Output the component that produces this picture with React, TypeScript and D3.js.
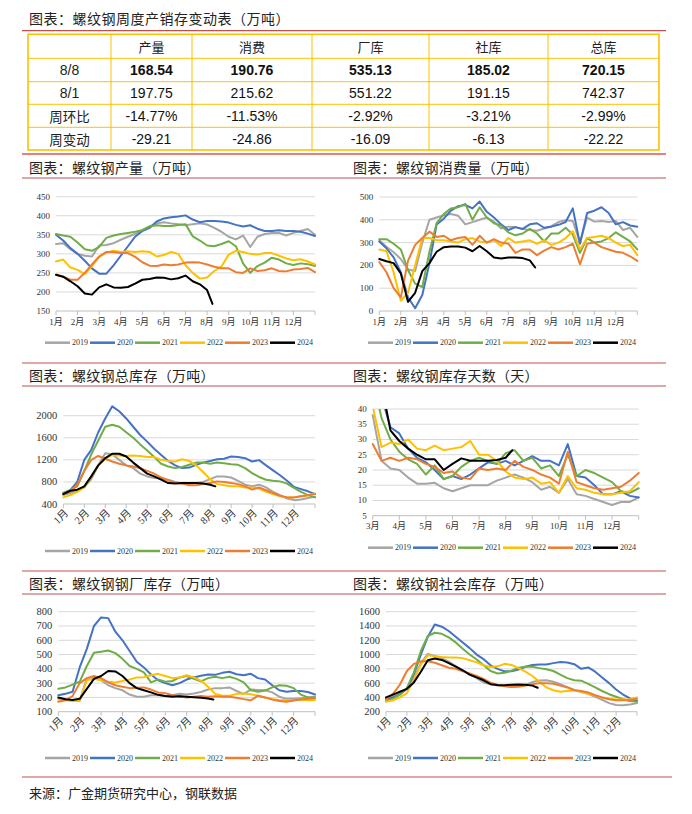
import React from 'react';
import * as d3 from 'd3';

// ---------------- shared ----------------
const YEARS = ['2019', '2020', '2021', '2022', '2023', '2024'];
const COLORS = ['#A5A5A5', '#4472C4', '#70AD47', '#FFC000', '#ED7D31', '#000000'];
const MONTHS = ['1月', '2月', '3月', '4月', '5月', '6月', '7月', '8月', '9月', '10月', '11月', '12月'];
const STEP = 1 / 3; // sample spacing in months
const LAST_2024 = 7.25; // month position of the 8/8 week

// ---------------- table ----------------
const TABLE_TITLE = '图表：螺纹钢周度产销存变动表（万吨）';
const TABLE_HEAD = ['产量', '消费', '厂库', '社库', '总库'];
const TABLE_ROWS = ['8/8', '8/1', '周环比', '周变动'];
const ROW_CUR = ['168.54', '190.76', '535.13', '185.02', '720.15'];
const ROW_PREV = ['197.75', '215.62', '551.22', '191.15', '742.37'];
const ROW_PCT = ['-14.77%', '-11.53%', '-2.92%', '-3.21%', '-2.99%'];
const ROW_CHG = ['-29.21', '-24.86', '-16.09', '-6.13', '-22.22'];

// ---------------- 产量 ----------------
const out2019 = [326,328,312,300,295,293,322,323,328,337,345,352,362,372,380,383,380,378,375,378,380,377,368,358,345,338,348,318,345,352,355,355,348,355,360,365,350];
const out2020 = [350,335,315,300,282,262,248,248,270,295,320,345,360,368,385,393,396,398,401,390,383,386,386,385,382,376,372,375,366,360,360,362,360,360,358,353,347];
const out2021 = [352,348,345,330,312,308,318,342,348,352,355,358,362,372,375,373,373,376,378,346,335,322,320,326,333,320,275,250,268,277,290,285,275,271,275,273,268];
const out2022 = [280,285,264,258,247,268,292,303,308,305,307,305,307,305,293,297,305,300,270,250,235,238,255,267,298,308,305,300,298,302,302,295,288,283,286,280,272];
const out2023 = [245,240,232,232,250,272,293,305,305,302,302,292,278,269,268,272,270,272,277,278,277,272,266,262,262,252,250,262,255,257,262,255,254,259,260,263,252];
const out2024 = [245,240,228,215,196,193,212,220,212,211,213,222,232,234,238,237,233,236,243,228,220,205,168.54];

// ---------------- 消费量 ----------------
const con2019 = [310,282,258,228,182,175,300,400,410,420,425,418,380,390,400,410,392,362,370,368,360,355,352,362,372,390,398,395,300,410,392,395,390,395,355,365,325];
const con2020 = [305,275,235,170,60,12,70,210,380,405,440,460,465,450,480,435,410,380,355,368,360,380,385,365,370,378,390,450,295,430,440,455,430,380,390,375,370];
const con2021 = [315,315,295,270,180,120,105,260,385,425,450,455,470,400,455,410,385,375,345,332,340,360,340,305,340,340,365,335,255,320,300,305,320,345,325,305,270];
const con2022 = [270,262,170,45,80,200,320,320,310,310,305,300,315,320,305,300,310,285,320,300,305,310,295,310,290,300,320,350,270,320,325,330,320,300,285,290,245];
const con2023 = [215,170,100,60,220,290,320,348,325,330,310,320,325,290,330,300,315,300,295,255,270,270,245,265,280,270,280,295,205,295,300,280,270,260,255,240,220];
const con2024 = [228,218,210,165,40,80,175,210,260,280,283,283,278,262,285,262,235,230,235,235,232,222,190.76];

// ---------------- 总库存 ----------------
const tot2019 = [560,600,650,700,850,1100,1320,1300,1200,1100,1050,950,900,870,860,840,800,770,760,780,800,850,900,900,880,820,750,720,750,700,620,560,500,470,480,510,530];
const tot2020 = [600,650,800,1200,1380,1700,1950,2170,2080,1950,1800,1650,1530,1400,1290,1180,1100,1050,1060,1110,1150,1180,1210,1220,1260,1250,1230,1170,1195,1100,1010,920,820,710,670,630,580];
const tot2021 = [600,650,720,1000,1300,1550,1800,1835,1800,1700,1600,1480,1370,1250,1130,1080,1050,1070,1110,1150,1150,1130,1150,1140,1120,1110,1050,960,890,840,820,810,770,690,620,560,520];
const tot2022 = [520,560,620,700,900,1100,1220,1290,1280,1270,1280,1270,1250,1250,1200,1180,1170,1210,1180,1100,980,850,760,740,720,720,700,700,680,620,580,540,520,520,540,560,590];
const tot2023 = [580,630,750,1000,1200,1270,1220,1170,1130,1100,1080,1050,1000,950,880,830,780,770,740,740,760,780,810,800,780,760,720,660,700,650,600,550,520,520,540,560,580];
const tot2024 = [580,640,660,720,900,1100,1230,1310,1310,1260,1150,1050,950,900,840,780,770,780,780,780,770,750,720.15];

// ---------------- 库存天数 (from March) ----------------
const day2019 = [38,23,20.5,20,17.5,15.5,15.5,15.8,14,13,14,15,15,15,16.5,17.5,18.5,17.5,16,13.5,14.5,12.5,17,12,11.5,10.5,9.5,8.5,9.5,9.5,11];
const day2020 = [60,44,34,32,27,24,22.5,20,17,18,17,18.5,20.5,22.5,22,23,21.5,23,24.5,23,23,21.5,28.5,18,17.5,15,12,12,13,11.5,11];
const day2021 = [50,37,30,26,23.5,22,18.5,21.5,17,18,21,23,24,23,22,25.5,26.5,23,24,20.5,21.5,18,25,18,20,19,17.5,16,13,12.5,14];
const day2022 = [41,27.5,29,28.5,30,27,26.5,28,26.5,27,27.5,29.5,25,25,23,19.5,17.5,17,17.5,15.5,16,12.5,18,14,13.5,12.5,12,12,12.5,13,16];
const day2023 = [28.5,23,24,23,24,23.5,22,21,19,19.5,17.5,17,20.5,20,20.5,20,23,21,20,18.5,17.5,15.5,26,16,15,14,13.5,14,14.5,16.5,19];
const day2024 = [60,48,33,29.5,27,25,23.5,23.5,20,22,23.8,23,23,23,23.3,24,26.5];

// ---------------- 钢厂库存 ----------------
const mill2019 = [195,185,180,175,335,340,320,285,265,250,220,205,205,215,215,210,215,225,220,228,238,255,265,265,270,245,225,255,252,250,235,205,190,190,195,200,205];
const mill2020 = [215,225,240,410,540,700,760,755,660,600,525,450,410,360,320,300,285,300,325,340,352,360,358,372,380,362,355,365,335,325,285,250,240,245,245,238,220];
const mill2021 = [260,270,290,310,420,512,520,528,510,470,420,400,375,305,325,310,315,340,350,330,312,335,345,335,345,330,305,250,240,248,270,285,282,265,220,200,200];
const mill2022 = [185,180,175,180,320,330,320,310,305,315,325,340,342,355,365,350,335,340,355,340,318,275,225,212,212,225,228,222,212,200,188,182,180,180,185,180,182];
const mill2023 = [170,180,210,300,335,350,335,305,285,275,265,268,270,255,235,230,215,208,200,205,210,205,208,205,205,198,188,180,212,200,185,175,170,178,185,190,195];
const mill2024 = [200,187,182,190,260,330,350,385,382,350,300,265,250,235,218,210,205,208,205,202,198,193,185.02];

// ---------------- 社会库存 ----------------
const soc2019 = [360,410,450,520,680,880,1010,980,950,900,840,780,720,670,610,585,565,560,560,560,575,615,638,640,620,585,545,505,475,450,410,365,320,295,290,300,320];
const soc2020 = [380,400,440,520,730,1000,1250,1420,1390,1330,1250,1170,1090,1000,935,850,800,765,765,790,830,855,860,862,880,895,890,865,800,820,760,680,600,510,440,385,350];
const soc2021 = [350,380,440,530,750,1050,1260,1305,1290,1240,1170,1080,1000,930,850,770,735,745,775,815,830,828,810,795,770,720,670,640,635,590,540,490,445,410,375,350,340];
const soc2022 = [340,360,400,460,640,860,990,975,965,960,960,950,920,890,850,825,835,870,855,810,760,700,620,540,500,480,490,500,480,450,425,400,380,370,370,375,400];
const soc2023 = [370,450,580,770,870,905,905,885,850,815,800,765,735,700,660,605,575,555,545,550,565,585,600,600,590,565,540,500,490,470,430,400,375,360,360,365,380];
const soc2024 = [400,440,480,520,610,760,920,945,925,880,830,780,720,680,640,585,575,570,578,582,578,565,535.13];

const TITLES = [
  '图表：螺纹钢产量（万吨）',
  '图表：螺纹钢消费量（万吨）',
  '图表：螺纹钢总库存（万吨）',
  '图表：螺纹钢库存天数（天）',
  '图表：螺纹钢钢厂库存（万吨）',
  '图表：螺纹钢社会库存（万吨）',
];
const SOURCE = '来源：广金期货研究中心，钢联数据';

const SERIF = "'Liberation Serif', 'Noto Sans CJK SC', serif";
const CJK = "'Noto Sans CJK SC', sans-serif";
const SANS = "'Liberation Sans', Arial, sans-serif";

type Spec = {
  id: string;
  x0: number; x1: number; yTop: number; yBot: number;
  yDomain: [number, number]; yStep: number;
  mStart: number;
  series: number[][];
  rotate: boolean;
  lx: number; ly: number;
  fs: number;
  clip?: boolean;
  labDy: number;
};

function LineChart({ s }: { s: Spec }) {
  const x = d3.scaleLinear().domain([s.mStart, 12]).range([s.x0, s.x1]);
  const y = d3.scaleLinear().domain(s.yDomain).range([s.yBot, s.yTop]);
  const yTicks = d3.range(s.yDomain[0], s.yDomain[1] + 0.001, s.yStep);
  const months = d3.range(s.mStart, 13);
  const line = d3.line<[number, number]>().x((d) => x(d[0])).y((d) => y(d[1]));
  const pts = (vals: number[], i: number): [number, number][] =>
    vals.map((v, k) => [
      i === 5 && k === vals.length - 1 ? LAST_2024 : s.mStart + k * STEP,
      v,
    ]);
  return (
    <g>
      {s.clip && (
        <clipPath id={s.id}>
          <rect x={s.x0 - 3} y={s.yTop} width={s.x1 - s.x0 + 6} height={s.yBot - s.yTop + 3} />
        </clipPath>
      )}
      {yTicks.map((t, i) => (
        <line key={'g' + i} x1={s.x0} x2={s.x1} y1={y(t)} y2={y(t)}
          stroke={i === 0 ? '#BFBFBF' : '#D9D9D9'} strokeWidth={1} />
      ))}
      {months.map((m) => (
        <line key={'t' + m} x1={x(m)} x2={x(m)} y1={s.yBot} y2={s.yBot + 4} stroke="#BFBFBF" strokeWidth={1} />
      ))}
      {yTicks.map((t, i) => (
        <text key={'yl' + i} x={s.x0 - 6} y={y(t)} textAnchor="end" dominantBaseline="central"
          fontSize={s.fs} fontFamily={SERIF} fill="#333">{t}</text>
      ))}
      {months.filter((m) => m < 12).map((m) =>
        s.rotate ? (
          <text key={'xl' + m} transform={`translate(${x(m) + 3},${s.yBot + 7}) rotate(-45)`}
            textAnchor="end" dy="0.35em" fontSize={s.fs} fontFamily={SERIF} fill="#333">{MONTHS[m]}</text>
        ) : (
          <text key={'xl' + m} x={x(m)} y={s.yBot + s.labDy} textAnchor="middle" dominantBaseline="central"
            fontSize={s.fs} fontFamily={SERIF} fill="#333">{MONTHS[m]}</text>
        )
      )}
      <g clipPath={s.clip ? `url(#${s.id})` : undefined}>
        {s.series.map((vals, i) => (
          <path key={'s' + i} d={line(pts(vals, i)) || ''} fill="none" stroke={COLORS[i]}
            strokeWidth={2} strokeLinejoin="round" strokeLinecap="round" />
        ))}
      </g>
      {YEARS.map((yr, i) => (
        <g key={'lg' + i}>
          <line x1={s.lx + i * 45} x2={s.lx + i * 45 + 25} y1={s.ly} y2={s.ly} stroke={COLORS[i]} strokeWidth={2.5} />
          <text x={s.lx + i * 45 + 27} y={s.ly} dominantBaseline="central" fontSize={8} fontFamily={SERIF} fill="#333">{yr}</text>
        </g>
      ))}
    </g>
  );
}

const SPECS: Spec[] = [
  { id: 'c1', x0: 56, x1: 315, yTop: 196.7, yBot: 311, yDomain: [150, 450], yStep: 50, mStart: 0,
    series: [out2019, out2020, out2021, out2022, out2023, out2024], rotate: false, lx: 45, ly: 342.7, fs: 9, labDy: 11 },
  { id: 'c2', x0: 379.3, x1: 637.3, yTop: 197, yBot: 311, yDomain: [0, 500], yStep: 100, mStart: 0,
    series: [con2019, con2020, con2021, con2022, con2023, con2024], rotate: false, lx: 368, ly: 342.7, fs: 9, labDy: 11 },
  { id: 'c3', x0: 63.3, x1: 315, yTop: 415.7, yBot: 504, yDomain: [400, 2000], yStep: 400, mStart: 0,
    series: [tot2019, tot2020, tot2021, tot2022, tot2023, tot2024], rotate: true, lx: 45, ly: 551, fs: 10.5, labDy: 11 },
  { id: 'c4', x0: 372.7, x1: 638.7, yTop: 409, yBot: 515.7, yDomain: [5, 40], yStep: 5, mStart: 2,
    series: [day2019, day2020, day2021, day2022, day2023, day2024], rotate: false, lx: 368, ly: 547.7, fs: 9, labDy: 10.5, clip: true },
  { id: 'c5', x0: 58.3, x1: 315, yTop: 611.7, yBot: 711.7, yDomain: [100, 800], yStep: 100, mStart: 0,
    series: [mill2019, mill2020, mill2021, mill2022, mill2023, mill2024], rotate: true, lx: 45, ly: 758, fs: 10.5, labDy: 11 },
  { id: 'c6', x0: 386, x1: 637, yTop: 611.7, yBot: 711.7, yDomain: [200, 1600], yStep: 200, mStart: 0,
    series: [soc2019, soc2020, soc2021, soc2022, soc2023, soc2024], rotate: true, lx: 368, ly: 758, fs: 10.5, labDy: 11 },
];

const TITLE_POS = [
  [29, 166.7], [353, 166.7], [29, 375], [353, 375], [29, 583], [353, 583],
];

const COL_X = [28, 111, 192, 312, 429, 548, 659];
const ROW_Y = [34.3, 58.3, 81.7, 104.3, 127.3, 150];

function Table() {
  const rows = [ROW_CUR, ROW_PREV, ROW_PCT, ROW_CHG];
  const cx = (c: number) => (COL_X[c] + COL_X[c + 1]) / 2;
  const cy = (r: number) => (ROW_Y[r] + ROW_Y[r + 1]) / 2;
  return (
    <g>
      {ROW_Y.slice(1, -1).map((yy, i) => (
        <line key={'r' + i} x1={COL_X[0]} x2={COL_X[6]} y1={yy} y2={yy} stroke="#FFC000" strokeWidth={1} />
      ))}
      {COL_X.slice(1, -1).map((xx, i) => (
        <line key={'c' + i} x1={xx} x2={xx} y1={ROW_Y[0]} y2={ROW_Y[5]} stroke="#FFC000" strokeWidth={1} />
      ))}
      <rect x={COL_X[0]} y={ROW_Y[0]} width={COL_X[6] - COL_X[0]} height={ROW_Y[5] - ROW_Y[0]}
        fill="none" stroke="#FFC000" strokeWidth={1.6} />
      {TABLE_HEAD.map((h, i) => (
        <text key={'h' + i} x={cx(i + 1)} y={cy(0)} textAnchor="middle" dominantBaseline="central"
          fontSize={13} fontFamily={CJK} fill="#222">{h}</text>
      ))}
      {TABLE_ROWS.map((rl, r) => (
        <text key={'rl' + r} x={cx(0)} y={cy(r + 1)} textAnchor="middle" dominantBaseline="central"
          fontSize={r < 2 ? 14 : 13.5} fontFamily={r < 2 ? SANS : CJK} fill="#222">{rl}</text>
      ))}
      {rows.map((row, r) =>
        row.map((v, c) => (
          <text key={`v${r}-${c}`} x={cx(c + 1)} y={cy(r + 1)} textAnchor="middle" dominantBaseline="central"
            fontSize={14} fontFamily={SANS} fontWeight={r === 0 ? 700 : 400} fill="#111">{v}</text>
        ))
      )}
    </g>
  );
}

export default function App() {
  const red = '#C0504D';
  return (
    <div style={{ position: 'absolute', left: 0, top: 0, background: '#fff' }}>
      <svg width={692} height={814} viewBox="0 0 692 814" style={{ display: 'block', background: '#fff' }}>
        <rect width={692} height={814} fill="#fff" />
        <text x={29} y={18.3} dominantBaseline="central" fontSize={14} letterSpacing={0.5} fontFamily={CJK} fill="#222">{TABLE_TITLE}</text>
        <line x1={22} x2={666} y1={30.7} y2={30.7} stroke={red} strokeWidth={1.3} />
        <Table />
        <line x1={22} x2={666} y1={154} y2={154} stroke="#E57F80" strokeWidth={2} />
        {TITLES.map((t, i) => (
          <text key={'tt' + i} x={TITLE_POS[i][0]} y={TITLE_POS[i][1]} dominantBaseline="central"
            fontSize={14} letterSpacing={0.3} fontFamily={CJK} fill="#222">{t}</text>
        ))}
        {[178, 363, 386, 571, 594].map((yy) => (
          <line key={'rl' + yy} x1={22} x2={666} y1={yy} y2={yy} stroke={red} strokeWidth={1.2} />
        ))}
        {SPECS.map((s) => <LineChart key={s.id} s={s} />)}
        <line x1={22} x2={672} y1={777} y2={777} stroke={red} strokeWidth={1.2} />
        <text x={29} y={792} dominantBaseline="central" fontSize={13} fontFamily={CJK} fill="#222">{SOURCE}</text>
      </svg>
    </div>
  );
}
